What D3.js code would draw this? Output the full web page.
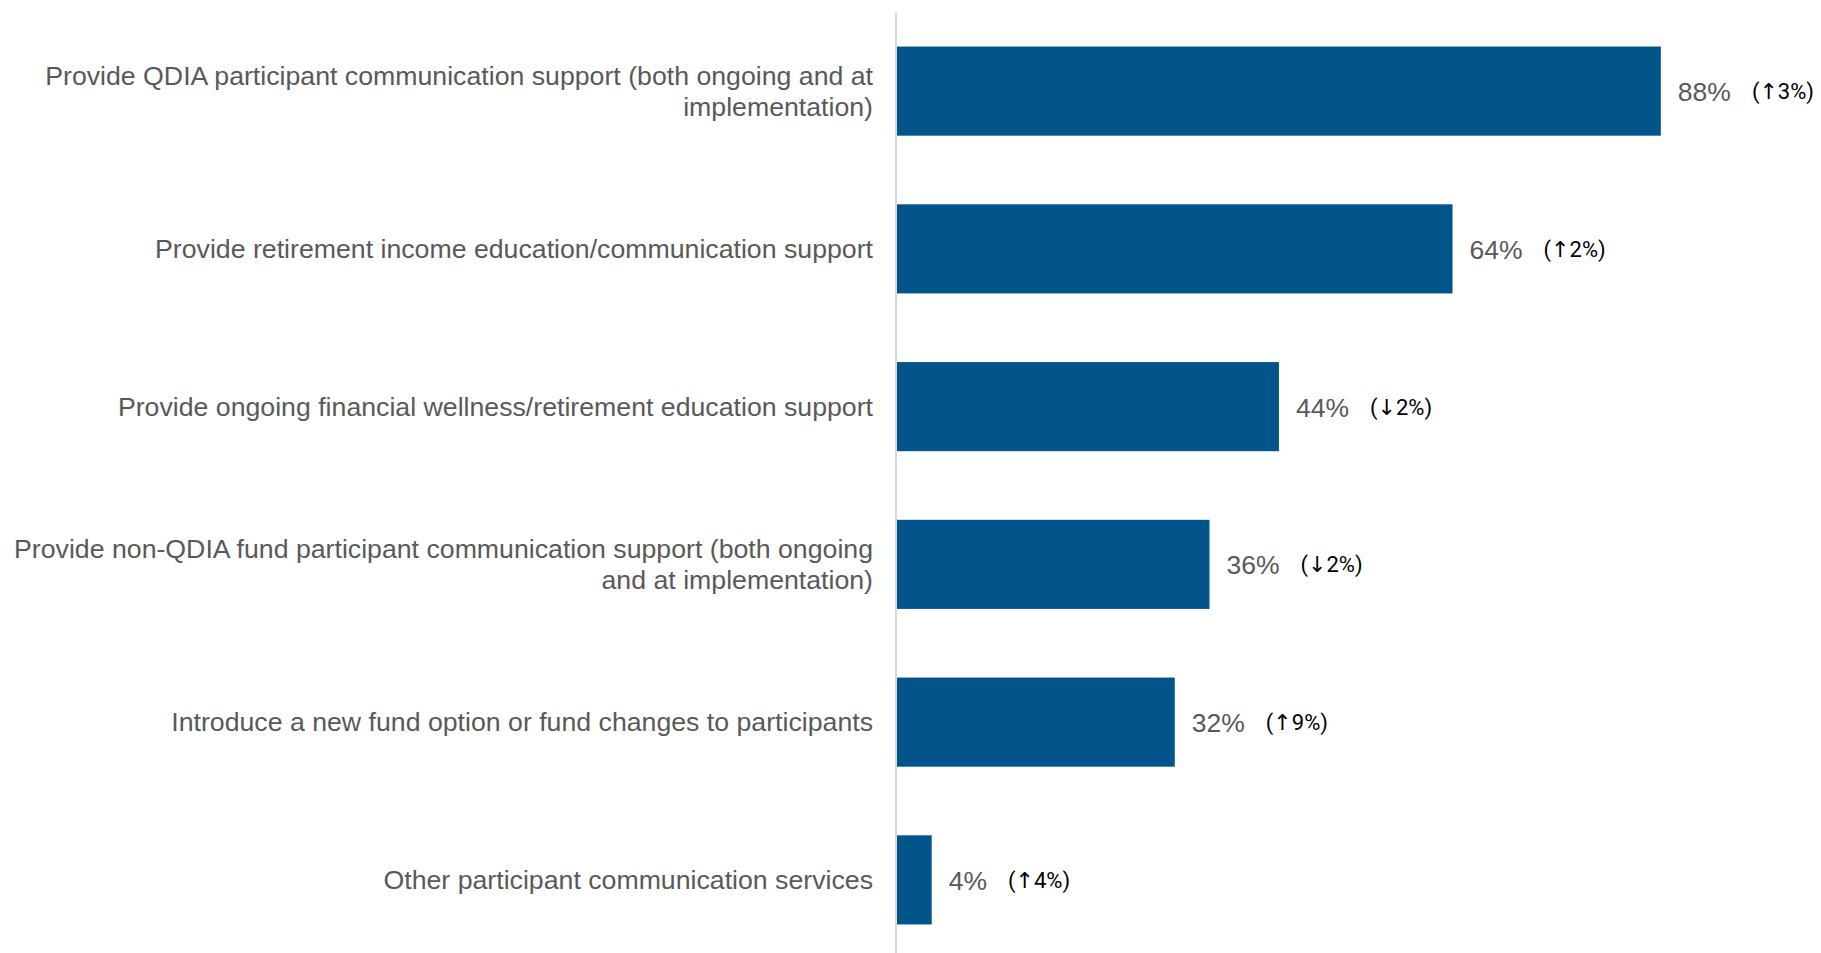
<!DOCTYPE html>
<html>
<head>
<meta charset="utf-8">
<script src="https://cdn.jsdelivr.net/npm/d3@7"></script>
<style>
  body { margin: 0; background: #fff; }
  .cat { font-family: "Liberation Sans", Arial, sans-serif; font-size: 26.7px; fill: #595959; }
  .val { font-family: "Liberation Sans", Arial, sans-serif; font-size: 26.5px; fill: #595959; }
  .chg { font-family: Roboto, "DejaVu Sans", sans-serif; font-size: 22px; fill: #000; }
</style>
</head>
<body>
<script>
// chart values
const categories = [
  "Provide QDIA participant communication support (both ongoing and at|implementation)",
  "Provide retirement income education/communication support",
  "Provide ongoing financial wellness/retirement education support",
  "Provide non-QDIA fund participant communication support (both ongoing|and at implementation)",
  "Introduce a new fund option or fund changes to participants",
  "Other participant communication services"
];
const values = [88, 64, 44, 36, 32, 4];
const changes = ["(↑3%)", "(↑2%)", "(↓2%)", "(↓2%)", "(↑9%)", "(↑4%)"];

const width = 1821, height = 953;
const svg = d3.select("body").append("svg")
  .attr("width", width).attr("height", height);

const x = d3.scaleLinear().domain([0, 100]).range([897, 1765]);
const y = d3.scaleBand().domain(categories).range([15, 956]).paddingInner(0.435).paddingOuter(0.2);

// axis line
svg.append("line")
  .attr("x1", x(0) - 1).attr("x2", x(0) - 1)
  .attr("y1", 12).attr("y2", height)
  .attr("stroke", "#d9d9d9").attr("stroke-width", 2);

svg.selectAll("rect.bar").data(categories).enter().append("rect")
  .attr("class", "bar")
  .attr("x", x(0))
  .attr("y", d => y(d))
  .attr("width", (d, i) => x(values[i]) - x(0))
  .attr("height", y.bandwidth())
  .attr("fill", "#02558b");

// category labels
svg.selectAll("text.cat").data(categories).enter().append("text")
  .attr("class", "cat")
  .attr("text-anchor", "end")
  .each(function(d) {
    const lines = d.split("|");
    const cy = y(d) + y.bandwidth() / 2;
    const lh = 31;
    lines.forEach(function(line, k) {
      d3.select(this).append("tspan")
        .attr("x", x(0) - 24)
        .attr("y", cy + 9 + (k - (lines.length - 1) / 2) * lh)
        .text(line);
    }, this);
  });

// value labels + change labels
categories.forEach(function(c, i) {
  const cy = y(c) + y.bandwidth() / 2;
  const t = svg.append("text").attr("class", "val")
    .attr("x", x(values[i]) + 17)
    .attr("y", cy + 10)
    .text(values[i] + "%");
  const w = t.node().getComputedTextLength();
  svg.append("text").attr("class", "chg")
    .attr("x", x(values[i]) + 17 + w + 21)
    .attr("y", cy + 8)
    .text(changes[i]);
});
</script>
</body>
</html>
